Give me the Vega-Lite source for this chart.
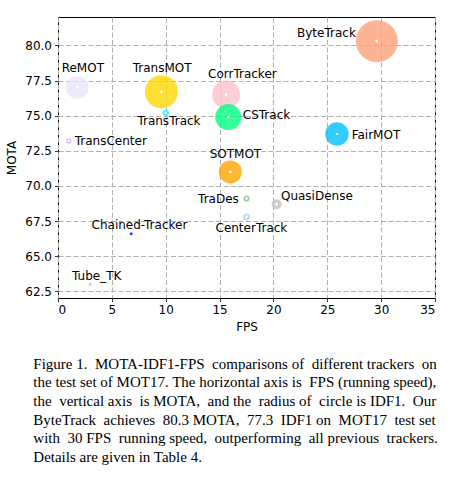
{
  "$schema": "https://vega.github.io/schema/vega-lite/v6.json",
  "autosize": {"type": "none"},
  "padding": {"left": 58, "top": 17, "right": 31, "bottom": 182},
  "width": 377,
  "height": 281,
  "background": "white",
  "title": {
    "text": [
      "Figure 1.\u00a0 MOTA-IDF1-FPS\u00a0 comparisons of\u00a0 different trackers\u00a0 on",
      "the test set of MOT17. The horizontal axis is\u00a0 FPS (running speed),",
      "the\u00a0 vertical axis\u00a0 is MOTA,\u00a0 and the\u00a0 radius of\u00a0 circle is IDF1.\u00a0 Our",
      "ByteTrack\u00a0 achieves\u00a0 80.3 MOTA,\u00a0 77.3\u00a0 IDF1 on\u00a0 MOT17\u00a0 test set",
      "with\u00a0 30 FPS\u00a0 running speed,\u00a0 outperforming\u00a0 all previous\u00a0 trackers.",
      "Details are given in Table 4."
    ],
    "orient": "bottom",
    "anchor": "start",
    "frame": "group",
    "align": "left",
    "dx": -24.7,
    "offset": 24,
    "font": "Liberation Serif",
    "fontSize": 15,
    "fontWeight": "normal",
    "lineHeight": 18.7,
    "color": "black"
  },
  "config": {
    "view": {"stroke": "black", "strokeWidth": 1},
    "font": "DejaVu Sans",
    "axis": {
      "domain": false,
      "tickColor": "black",
      "tickSize": 3.5,
      "tickWidth": 0.8,
      "labelFont": "DejaVu Sans",
      "labelFontSize": 12,
      "labelColor": "black",
      "labelPadding": 3,
      "titleFont": "DejaVu Sans",
      "titleFontSize": 12,
      "titleFontWeight": "normal",
      "titleColor": "black",
      "gridColor": "#b0b0b0",
      "gridDash": [5, 2.5],
      "gridWidth": 1,
      "gridOpacity": 1
    }
  },
  "data": {
    "values": [
      {"tracker": "ByteTrack", "fps": 29.6, "mota": 80.3, "idf1": 77.3},
      {"tracker": "ReMOT", "fps": 1.8, "mota": 77.0, "idf1": 69.9},
      {"tracker": "TransMOT", "fps": 9.6, "mota": 76.7, "idf1": 75.1},
      {"tracker": "CorrTracker", "fps": 15.6, "mota": 76.5, "idf1": 73.6},
      {"tracker": "TransTrack", "fps": 10.0, "mota": 75.2, "idf1": 63.5},
      {"tracker": "CSTrack", "fps": 15.8, "mota": 74.9, "idf1": 72.6},
      {"tracker": "FairMOT", "fps": 25.9, "mota": 73.7, "idf1": 72.3},
      {"tracker": "TransCenter", "fps": 1.0, "mota": 73.2, "idf1": 54.5},
      {"tracker": "SOTMOT", "fps": 16.0, "mota": 71.0, "idf1": 71.9},
      {"tracker": "TraDes", "fps": 17.5, "mota": 69.1, "idf1": 63.9},
      {"tracker": "QuasiDense", "fps": 20.3, "mota": 68.7, "idf1": 66.3},
      {"tracker": "CenterTrack", "fps": 17.5, "mota": 67.8, "idf1": 64.7},
      {"tracker": "Chained-Tracker", "fps": 6.8, "mota": 66.6, "idf1": 57.4},
      {"tracker": "Tube_TK", "fps": 3.0, "mota": 63.0, "idf1": 58.6}
    ]
  },
  "encoding": {
    "x": {
      "field": "fps", "type": "quantitative", "title": "FPS",
      "scale": {"domain": [0, 35], "nice": false, "zero": false},
      "axis": {"values": [0, 5, 10, 15, 20, 25, 30, 35], "titlePadding": 6}
    },
    "y": {
      "field": "mota", "type": "quantitative", "title": "MOTA",
      "scale": {"domain": [62.03, 82.02], "nice": false, "zero": false},
      "axis": {"values": [62.5, 65, 67.5, 70, 72.5, 75, 77.5, 80], "format": ".1f", "titlePadding": 6}
    }
  },
  "layer": [
    {
      "mark": {"type": "point", "filled": true, "shape": "circle", "opacity": 0.8, "strokeWidth": 0},
      "encoding": {
        "color": {
          "field": "tracker", "type": "nominal", "legend": null,
          "scale": {
            "domain": ["ByteTrack", "ReMOT", "TransMOT", "CorrTracker", "TransTrack", "CSTrack", "FairMOT", "TransCenter", "SOTMOT", "TraDes", "QuasiDense", "CenterTrack", "Chained-Tracker", "Tube_TK"],
            "range": ["lightsalmon", "lavender", "gold", "pink", "cyan", "springgreen", "deepskyblue", "plum", "orange", "darkseagreen", "silver", "lightblue", "blue", "lightsteelblue"]
          }
        },
        "size": {
          "field": "idf1", "type": "quantitative", "legend": null,
          "scale": {
            "type": "linear",
            "domain": [54.5, 57.4, 58.6, 63.5, 63.9, 64.7, 66.3, 69.9, 71.9, 72.3, 72.6, 73.6, 75.1, 77.3],
            "range": [27, 9, 9, 41, 36, 49, 100, 511, 529, 548, 676, 784, 1089, 1764]
          }
        }
      }
    },
    {
      "transform": [{"filter": "datum.tracker != 'Tube_TK' && datum.tracker != 'Chained-Tracker'"}],
      "mark": {"type": "point", "filled": true, "shape": "circle", "color": "white", "opacity": 1, "size": 7, "strokeWidth": 0}
    },
    {"transform": [{"filter": "datum.tracker == 'ByteTrack'"}], "mark": {"type": "text", "align": "right", "baseline": "alphabetic", "dx": -21, "dy": -4, "fontSize": 12, "font": "DejaVu Sans", "color": "black"}, "encoding": {"text": {"field": "tracker"}}},
    {"transform": [{"filter": "datum.tracker == 'ReMOT'"}], "mark": {"type": "text", "align": "left", "baseline": "alphabetic", "dx": -15.7, "dy": -15.4, "fontSize": 12, "font": "DejaVu Sans", "color": "black"}, "encoding": {"text": {"field": "tracker"}}},
    {"transform": [{"filter": "datum.tracker == 'TransMOT'"}], "mark": {"type": "text", "align": "left", "baseline": "alphabetic", "dx": -28.7, "dy": -20, "fontSize": 12, "font": "DejaVu Sans", "color": "black"}, "encoding": {"text": {"field": "tracker"}}},
    {"transform": [{"filter": "datum.tracker == 'CorrTracker'"}], "mark": {"type": "text", "align": "left", "baseline": "alphabetic", "dx": -18, "dy": -17, "fontSize": 12, "font": "DejaVu Sans", "color": "black"}, "encoding": {"text": {"field": "tracker"}}},
    {"transform": [{"filter": "datum.tracker == 'TransTrack'"}], "mark": {"type": "text", "align": "left", "baseline": "alphabetic", "dx": -28.3, "dy": 12.3, "fontSize": 12, "font": "DejaVu Sans", "color": "black"}, "encoding": {"text": {"field": "tracker"}}},
    {"transform": [{"filter": "datum.tracker == 'CSTrack'"}], "mark": {"type": "text", "align": "left", "baseline": "alphabetic", "dx": 14.6, "dy": 1.7, "fontSize": 12, "font": "DejaVu Sans", "color": "black"}, "encoding": {"text": {"field": "tracker"}}},
    {"transform": [{"filter": "datum.tracker == 'FairMOT'"}], "mark": {"type": "text", "align": "left", "baseline": "alphabetic", "dx": 14.7, "dy": 5, "fontSize": 12, "font": "DejaVu Sans", "color": "black"}, "encoding": {"text": {"field": "tracker"}}},
    {"transform": [{"filter": "datum.tracker == 'TransCenter'"}], "mark": {"type": "text", "align": "left", "baseline": "alphabetic", "dx": 6, "dy": 4.4, "fontSize": 12, "font": "DejaVu Sans", "color": "black"}, "encoding": {"text": {"field": "tracker"}}},
    {"transform": [{"filter": "datum.tracker == 'SOTMOT'"}], "mark": {"type": "text", "align": "left", "baseline": "alphabetic", "dx": -20.7, "dy": -14, "fontSize": 12, "font": "DejaVu Sans", "color": "black"}, "encoding": {"text": {"field": "tracker"}}},
    {"transform": [{"filter": "datum.tracker == 'TraDes'"}], "mark": {"type": "text", "align": "right", "baseline": "alphabetic", "dx": -7.7, "dy": 4.7, "fontSize": 12, "font": "DejaVu Sans", "color": "black"}, "encoding": {"text": {"field": "tracker"}}},
    {"transform": [{"filter": "datum.tracker == 'QuasiDense'"}], "mark": {"type": "text", "align": "left", "baseline": "alphabetic", "dx": 4.3, "dy": -4.7, "fontSize": 12, "font": "DejaVu Sans", "color": "black"}, "encoding": {"text": {"field": "tracker"}}},
    {"transform": [{"filter": "datum.tracker == 'CenterTrack'"}], "mark": {"type": "text", "align": "left", "baseline": "alphabetic", "dx": -31, "dy": 15.4, "fontSize": 12, "font": "DejaVu Sans", "color": "black"}, "encoding": {"text": {"field": "tracker"}}},
    {"transform": [{"filter": "datum.tracker == 'Chained-Tracker'"}], "mark": {"type": "text", "align": "left", "baseline": "alphabetic", "dx": -39.7, "dy": -4.3, "fontSize": 12, "font": "DejaVu Sans", "color": "black"}, "encoding": {"text": {"field": "tracker"}}},
    {"transform": [{"filter": "datum.tracker == 'Tube_TK'"}], "mark": {"type": "text", "align": "left", "baseline": "alphabetic", "dx": -18.3, "dy": -4.7, "fontSize": 12, "font": "DejaVu Sans", "color": "black"}, "encoding": {"text": {"field": "tracker"}}}
  ]
}
